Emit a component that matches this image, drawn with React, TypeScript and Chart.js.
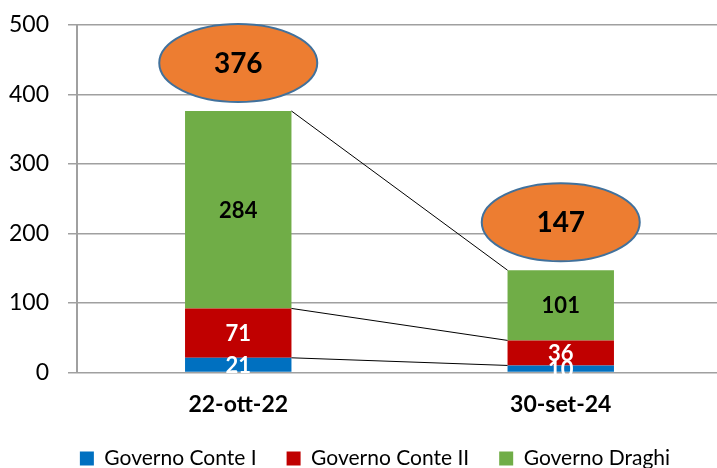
import React, { useEffect, useRef } from "react";
import { Chart, registerables } from "chart.js";

Chart.register(...registerables);

const categories = ["22-ott-22", "30-set-24"];
const seriesNames = ["Governo Conte I", "Governo Conte II", "Governo Draghi"];
const conteI = [21, 10];
const conteII = [71, 36];
const draghi = [284, 101];
const yTickValues = [0, 100, 200, 300, 400, 500];

const seriesColors = ["#0070C0", "#C00000", "#70AD47"];
const labelColors = ["#FFFFFF", "#FFFFFF", "#000000"];
const FONT = "Lato, 'Open Sans', sans-serif";

const overlayPlugin = {
  id: "overlay",
  afterLayout(chart: any) {
    if (chart.legend) {
      chart.legend.left += 13;
      chart.legend.right += 13;
    }
  },
  afterDatasetsDraw(chart: any) {
    const ctx = chart.ctx as CanvasRenderingContext2D;
    const metas = chart.data.datasets.map((_: any, i: number) => chart.getDatasetMeta(i));
    ctx.save();
    // connector lines
    ctx.strokeStyle = "#000000";
    ctx.lineWidth = 1;
    metas.forEach((meta: any) => {
      for (let j = 0; j < meta.data.length - 1; j++) {
        const a = meta.data[j];
        const b = meta.data[j + 1];
        ctx.beginPath();
        ctx.moveTo(a.x + a.width / 2, a.y);
        ctx.lineTo(b.x - b.width / 2, b.y);
        ctx.stroke();
      }
    });
    // segment labels
    ctx.textAlign = "center";
    ctx.textBaseline = "middle";
    ctx.font = `bold 22px ${FONT}`;
    metas.forEach((meta: any, i: number) => {
      const vals = chart.data.datasets[i].data as number[];
      meta.data.forEach((el: any, j: number) => {
        ctx.fillStyle = labelColors[i];
        ctx.fillText(String(vals[j]), el.x, (el.y + el.base) / 2 + 1);
      });
    });
    // totals in ellipses
    const lastMeta = metas[metas.length - 1];
    lastMeta.data.forEach((el: any, j: number) => {
      const total = chart.data.datasets.reduce((s: number, ds: any) => s + (ds.data[j] as number), 0);
      const cx = el.x;
      const cy = el.y - 48;
      ctx.beginPath();
      ctx.ellipse(cx, cy, 79, 39, 0, 0, Math.PI * 2);
      ctx.fillStyle = "#ED7D31";
      ctx.fill();
      ctx.lineWidth = 2;
      ctx.strokeStyle = "#41719C";
      ctx.stroke();
      ctx.fillStyle = "#000000";
      ctx.font = `bold 28px ${FONT}`;
      ctx.fillText(String(total), cx, cy + 1);
    });
    ctx.restore();
  },
};

export default function App() {
  const canvasRef = useRef<HTMLCanvasElement | null>(null);

  useEffect(() => {
    if (!canvasRef.current) return;
    Chart.defaults.font.family = FONT;
    const seriesData = [conteI, conteII, draghi];
    const chart = new Chart(canvasRef.current, {
      type: "bar",
      data: {
        labels: categories,
        datasets: seriesNames.map((name, i) => ({
          label: name,
          data: seriesData[i],
          backgroundColor: seriesColors[i],
          borderWidth: 0,
          categoryPercentage: 1,
          barPercentage: 0.33,
        })),
      },
      options: {
        responsive: false,
        animation: false,
        layout: { padding: { top: 11, left: 2, right: 0, bottom: 0 } },
        plugins: {
          tooltip: { enabled: false },
          legend: {
            position: "bottom",
            labels: {
              boxWidth: 14,
              boxHeight: 14,
              padding: 30,
              color: "#000000",
              font: { size: 21 },
            },
          },
        },
        scales: {
          x: {
            stacked: true,
            grid: { display: false },
            border: { display: false },
            afterFit: (axis: any) => {
              axis.height -= 10;
            },
            ticks: {
              color: "#000000",
              font: { size: 23, weight: "bold" },
              padding: 10,
            },
          },
          y: {
            stacked: true,
            min: 0,
            max: 500,
            afterBuildTicks: (axis: any) => {
              axis.ticks = yTickValues.map((v) => ({ value: v }));
            },
            afterFit: (axis: any) => {
              axis.width = 75;
            },
            grid: { color: "#A0A0A0", lineWidth: 1.5, tickLength: 9 },
            border: { color: "#A0A0A0", width: 2 },
            ticks: {
              color: "#000000",
              font: { size: 23 },
              padding: 19,
            },
          },
        },
      },
      plugins: [overlayPlugin],
    });
    return () => chart.destroy();
  }, []);

  return (
    <div style={{ position: "fixed", left: 0, top: 0, width: 717, height: 468, overflow: "hidden", background: "#FFFFFF" }}>
      <canvas ref={canvasRef} width={722} height={487} style={{ display: "block", position: "relative", top: -8 }} />
    </div>
  );
}
